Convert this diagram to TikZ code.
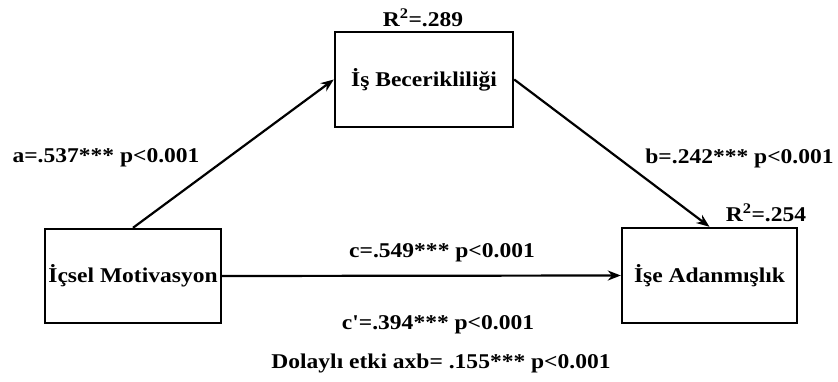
\documentclass[tikz,border=0pt]{standalone}
\usepackage{fontspec}
\setmainfont{Liberation Serif}[FakeStretch=1.12, Ligatures=TeXOff]
\usetikzlibrary{arrows.meta}
\begin{document}
\begin{tikzpicture}[x=1pt,y=-1pt,
  box/.style={draw, line width=2.4pt, inner sep=0pt, font=\fontsize{21}{24}\selectfont\bfseries},
  lbl/.style={inner sep=0pt, font=\fontsize{21}{24}\selectfont\bfseries},
  conn/.style={line width=2.2pt, -{Stealth[length=13pt,width=10pt]}}]
\useasboundingbox (0,0) rectangle (838,382);
\node[box, minimum width=178pt, minimum height=95pt] (med) at (424,79.5) {İş Becerikliliği};
\node[box, minimum width=176pt, minimum height=94pt] (iv) at (133,276) {İçsel Motivasyon};
\node[box, minimum width=175pt, minimum height=95pt] (dv) at (709.5,275.5) {İşe Adanmışlık};
\draw[conn] (iv.north) -- (med.west);
\draw[conn] (med.east) -- (dv.north);
\draw[conn] (iv.east) -- (dv.west);
\node[lbl] (r1) at (423,18) {R\textsuperscript{2}=.289};
\node[lbl] (r2) at (766,213) {R\textsuperscript{2}=.254};
\node[lbl] (la) at (106,158) {a=.537*** p<0.001};
\node[lbl] (lb) at (739.5,158) {b=.242*** p<0.001};
\node[lbl] (lc) at (442,253) {c=.549*** p<0.001};
\node[lbl] (lcp) at (438,325) {c'=.394*** p<0.001};
\node[lbl] (lind) at (441,363) {Dolaylı etki axb= .155*** p<0.001};
\end{tikzpicture}
\end{document}
